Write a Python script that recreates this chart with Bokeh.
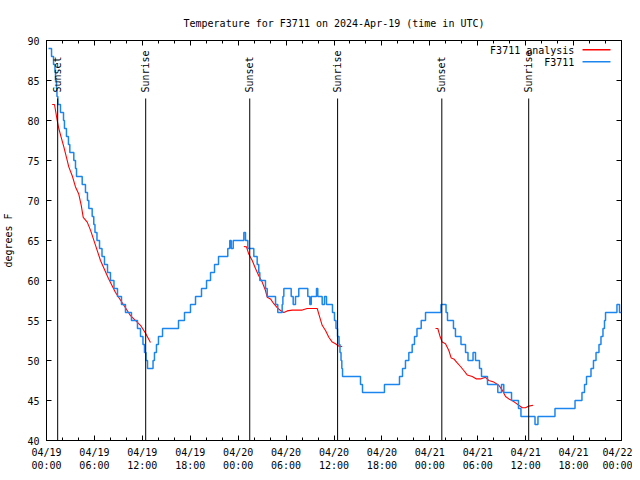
import math
import pandas as pd
from bokeh.plotting import figure
from bokeh.models import (Range1d, FixedTicker, DatetimeTickFormatter, LinearAxis,
                          DatetimeAxis, Label, BoxAnnotation, ColumnDataSource,
                          CustomJSTickFormatter)
from bokeh.core.properties import value
from bokeh.embed import file_html
from bokeh.resources import INLINE

# ---------------- data ----------------
start = pd.Timestamp("2024-04-19 00:00")
span_hours = 72

# observed F3711 (step changes: hours since start, temperature in F)
blue_hours = [0.25, 0.63, 0.88, 1.06, 1.13, 1.25, 1.31, 1.42, 1.75, 2.13,
              2.25, 2.5, 2.75, 2.92, 3.42, 3.63, 3.76, 4.47, 4.88, 5.13,
              5.3, 5.72, 5.92, 6.07, 6.32, 6.64, 6.95, 7.26, 7.64, 8.01,
              8.45, 8.89, 9.39, 9.89, 10.64, 11.39, 11.77, 12.08, 12.27, 12.46,
              12.65, 13.34, 13.52, 13.77, 14.02, 14.53, 16.53, 17.28, 18.03, 18.66,
              19.41, 20.04, 20.54, 21.04, 21.54, 22.7, 22.95, 23.13, 23.38, 24.71,
              24.92, 25.21, 25.96, 26.38, 26.58, 26.71, 27.42, 27.64, 28.68, 28.96,
              29.51, 29.6, 29.72, 30.64, 30.89, 31.18, 31.59, 32.72, 32.97, 33.15,
              33.81, 33.97, 34.52, 34.81, 35.06, 35.81, 36.06, 36.25, 36.44, 36.63,
              36.75, 36.88, 36.98, 37.07, 39.32, 39.57, 42.32, 44.2, 44.58, 44.95,
              45.37, 45.79, 46.08, 46.39, 46.92, 47.46, 49.4, 50.03, 50.21, 50.96,
              51.21, 51.9, 52.47, 52.78, 53.41, 53.72, 54.22, 54.47, 55.22, 56.51,
              56.97, 57.26, 58.23, 59.1, 59.41, 61.17, 61.54, 63.67, 66.18, 67.05,
              67.37, 67.62, 68.18, 68.49, 68.81, 69.18, 69.43, 69.68, 69.87, 70.0,
              71.43, 71.75, 72.0]
blue_temp = [89, 88, 87, 86, 85, 84, 83, 82, 81, 80,
             79, 78, 77, 76, 75, 74, 73, 72, 71, 70,
             69, 68, 67, 66, 65, 64, 63, 62, 61, 60,
             59, 58, 57, 56, 55, 54, 53, 52, 51, 50,
             49, 50, 51, 52, 53, 54, 55, 56, 57, 58,
             59, 60, 61, 62, 63, 64, 65, 64, 65, 66,
             65, 64, 63, 62, 61, 60, 59, 58, 57, 56,
             57, 58, 59, 58, 57, 58, 59, 58, 57, 58,
             59, 58, 57, 58, 57, 56, 55, 54, 53, 52,
             51, 50, 49, 48, 47, 46, 47, 48, 49, 50,
             51, 52, 53, 54, 55, 56, 57, 56, 55, 54,
             53, 52, 51, 50, 51, 50, 49, 48, 47, 46,
             47, 46, 45, 44, 43, 42, 43, 44, 45, 46,
             47, 48, 49, 50, 51, 52, 53, 54, 55, 56,
             57, 56, 56]

# F3711 analysis (three night-time pieces)
red1_hours = [0.71, 1.0, 1.13, 1.34, 1.54, 1.84, 2.17, 2.5, 2.79, 3.22,
              3.63, 4.04, 4.35, 4.6, 5.1, 5.51, 6.14, 6.76, 7.76, 8.64,
              9.89, 10.52, 11.77, 12.4, 13.02]
red1_temp = [82, 82, 81.25, 80, 79, 77.9, 76.7, 75.4, 74.2, 73.1,
             71.7, 70.8, 69.4, 67.9, 67.3, 66.3, 64.4, 62.5, 60.25, 58.5,
             56.6, 55.6, 54.4, 53.4, 52.25]
red2_hours = [24.71, 25.04, 25.33, 25.76, 26.17, 26.58, 27.01, 27.42, 27.64, 28.05,
              28.46, 28.89, 29.3, 29.72, 30.14, 30.77, 32.02, 32.64, 33.9, 34.1,
              34.52, 34.94, 35.35, 35.78, 36.19, 36.6, 37.03]
red2_temp = [64.25, 64.2, 63.3, 62.5, 61.5, 60.6, 59.8, 58.75, 57.9, 57.7,
             57.1, 56.6, 56.25, 56.0, 56.2, 56.3, 56.3, 56.5, 56.5, 55.8,
             54.4, 53.75, 52.9, 52.3, 52.1, 51.8, 51.75]
red3_hours = [48.71, 49.0, 49.25, 49.55, 49.96, 50.38, 50.68, 51.0, 51.43, 51.84,
              52.25, 52.68, 53.31, 53.84, 54.35, 54.97, 55.38, 56.01, 56.64, 57.06,
              57.48, 57.89, 58.31, 58.73, 59.14, 59.57, 59.98, 60.39, 60.94]
red3_temp = [54, 54, 53.1, 52.3, 52.1, 51.25, 50.3, 50.2, 49.7, 49.25,
             48.75, 48.2, 48, 47.7, 47.7, 47.9, 47.5, 47.3, 46.9, 46.3,
             45.5, 45.2, 45, 44.7, 44.4, 44.1, 44.1, 44.3, 44.4]

# sun events
event_hours = [1.40, 12.42, 25.45, 36.45, 49.50, 60.38]
event_names = ["Sunset", "Sunrise", "Sunset", "Sunrise", "Sunset", "Sunrise"]

y_ticks = [40, 45, 50, 55, 60, 65, 70, 75, 80, 85, 90]
x_major_step_h = 6
x_minor_step_h = 2

title_text = "Temperature for F3711 on 2024-Apr-19 (time in UTC)"
y_label = "degrees F"
legend_names = ["F3711 analysis", "F3711"]

# ---------------- helpers ----------------
MS_H = 3600 * 1000.0
t0_ms = start.value / 1e6


def to_ms(h):
    return t0_ms + h * MS_H


def to_time(hours):
    return start + pd.to_timedelta(hours, unit="h")


FONT = "DejaVu Sans Mono"
BLUE = "#1c86ee"
RED = "#ff0000"

p = figure(frame_width=575, frame_height=400,
           x_axis_type="datetime",
           x_range=Range1d(to_ms(0), to_ms(span_hours)),
           y_range=Range1d(40, 90),
           output_backend="svg", toolbar_location=None,
           min_border_left=38, min_border_right=11,
           min_border_top=40, min_border_bottom=24)
p.grid.visible = False
p.outline_line_color = "black"
p.outline_line_width = 1
p.background_fill_color = "white"
p.border_fill_color = "white"

# title
p.title.text = title_text
p.title.align = "center"
p.title.text_font = FONT
p.title.text_font_size = "10px"
p.title.text_font_style = "normal"
p.title.text_color = "black"
p.title.standoff = 23

# tickers
major_ms = [to_ms(h) for h in range(0, span_hours + 1, x_major_step_h)]
minor_ms = [to_ms(h) for h in range(0, span_hours + 1, x_minor_step_h)]
xticker = FixedTicker(ticks=major_ms, minor_ticks=minor_ms)
yticker = FixedTicker(ticks=y_ticks)

fmt_str = "%m/%d\n%H:%M"
xfmt = DatetimeTickFormatter(milliseconds=fmt_str, seconds=fmt_str, minsec=fmt_str,
                             minutes=fmt_str, hourmin=fmt_str, hours=fmt_str,
                             days=fmt_str, months=fmt_str, years=fmt_str)
blank_fmt = CustomJSTickFormatter(code="return ''")


def style_axis(ax, labels=True):
    ax.axis_line_color = "black"
    ax.major_tick_in = 5
    ax.major_tick_out = 0
    ax.minor_tick_in = 3
    ax.minor_tick_out = 0
    ax.major_tick_line_color = "black"
    ax.minor_tick_line_color = "black"
    ax.major_label_text_font = FONT
    ax.major_label_text_font_size = "10px"
    ax.major_label_text_color = "black"
    if not labels:
        ax.formatter = blank_fmt
        ax.major_label_standoff = 0


xb = p.xaxis[0]
xb.ticker = xticker
xb.formatter = xfmt
style_axis(xb)
xb.major_label_standoff = 6

yl = p.yaxis[0]
yl.ticker = yticker
style_axis(yl)
yl.minor_tick_line_color = None
yl.major_label_standoff = 7
yl.axis_label = y_label
yl.axis_label_text_font = FONT
yl.axis_label_text_font_size = "10px"
yl.axis_label_text_font_style = "normal"
yl.axis_label_text_color = "black"
yl.axis_label_standoff = 10

xt = DatetimeAxis(ticker=xticker)
style_axis(xt, labels=False)
p.add_layout(xt, "above")

yr = LinearAxis(ticker=yticker)
style_axis(yr, labels=False)
yr.minor_tick_line_color = None
p.add_layout(yr, "right")

# analysis (red)
for hrs, tmp in [(red1_hours, red1_temp), (red2_hours, red2_temp), (red3_hours, red3_temp)]:
    p.line(x=to_time(hrs), y=tmp, line_color=RED, line_width=1.1)

# observations (blue, stepped)
p.step(x=to_time(blue_hours), y=blue_temp, mode="after", line_color=BLUE, line_width=1.5)

# sunrise / sunset markers
ev_src = ColumnDataSource(dict(t=to_time(event_hours), name=event_names,
                               top=[82.75] * len(event_hours),
                               bottom=[40] * len(event_hours),
                               ly=[83.5] * len(event_hours)))
p.segment(x0="t", y0="top", x1="t", y1="bottom", source=ev_src,
          line_color="black", line_width=1)
p.text(x="t", y="ly", text="name", source=ev_src, angle=math.pi / 2,
       text_align="left", text_baseline="middle",
       text_font=value(FONT), text_font_size="10px", text_color="black")

# legend (text right-aligned, swatch to its right, as in the reference)
leg_rows = [(88.75, RED), (87.25, BLUE)]
for name, (ly, col) in zip(legend_names, leg_rows):
    p.add_layout(Label(x=to_ms(66.1), y=ly, text=name, text_align="right",
                       text_baseline="middle", text_font=FONT,
                       text_font_size="10px", text_color="black"))
    p.add_layout(BoxAnnotation(left=to_ms(67.12), right=to_ms(70.62),
                               bottom=ly, top=ly + 0.19,
                               fill_color=col, fill_alpha=1, line_color=None))

open("out.html", "w").write(file_html(p, INLINE))
